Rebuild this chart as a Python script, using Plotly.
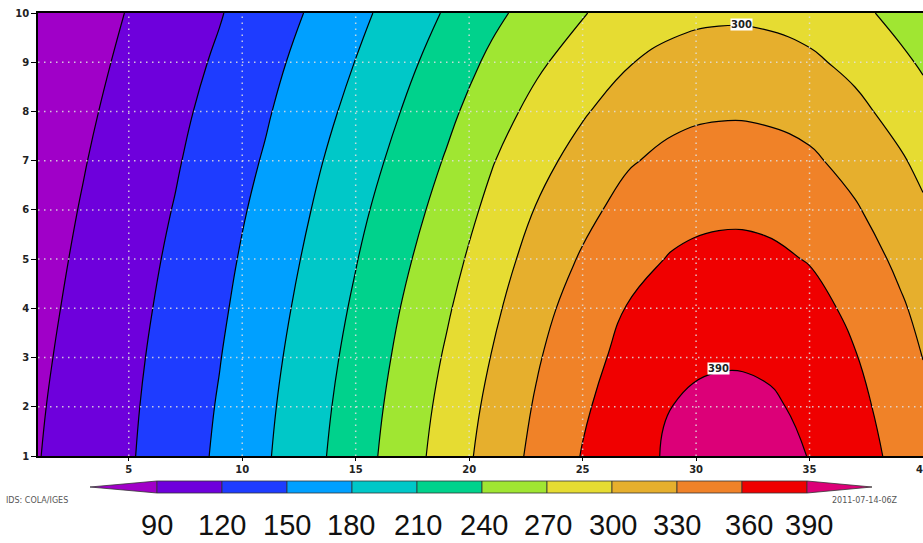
import plotly.graph_objects as go

# ---- data ----
x_vals = [1, 3, 5, 7, 9, 11, 13, 15, 17, 19, 21, 23, 25, 27, 29, 31, 33, 35, 37, 39, 40]
y_vals = [1, 2, 3, 4, 5, 6, 7, 8, 9, 10]

z_y1 = [89.0, 103.3, 117.3, 135.1, 154.4, 176.5, 200.7, 226.7, 254.0, 282.9, 311.7, 337.7, 361.4, 379.3, 394.6, 401.6, 399.9, 389.3, 372.5, 352.1, 340.1]
z_y2 = [87.4, 101.7, 115.8, 133.1, 152.1, 174.0, 197.8, 223.5, 250.5, 278.7, 307.1, 333.3, 356.5, 374.3, 390.4, 395.8, 394.2, 385.2, 367.6, 347.3, 335.6]
z_y3 = [85.3, 99.6, 113.9, 130.5, 149.1, 170.7, 194.1, 219.3, 245.9, 273.2, 301.0, 327.6, 350.3, 368.4, 382.3, 387.6, 386.1, 377.2, 361.4, 341.0, 329.7]
z_y4 = [82.9, 97.2, 111.6, 127.5, 145.6, 166.8, 189.7, 214.3, 240.5, 266.7, 293.9, 320.8, 342.8, 361.3, 373.0, 378.2, 376.9, 369.1, 353.9, 333.5, 322.8]
z_y5 = [80.4, 94.6, 109.0, 124.4, 142.1, 162.4, 184.9, 208.7, 233.8, 259.4, 286.1, 311.8, 333.0, 351.1, 362.3, 367.1, 365.9, 358.6, 343.8, 324.3, 313.8]
z_y6 = [77.6, 91.8, 106.1, 120.9, 138.3, 157.5, 179.6, 202.5, 226.4, 251.2, 277.5, 301.9, 322.2, 339.7, 350.3, 354.8, 353.7, 347.0, 332.7, 314.1, 303.8]
z_y7 = [74.5, 88.7, 102.9, 117.1, 134.1, 152.2, 173.8, 195.7, 218.4, 242.4, 268.2, 291.1, 310.4, 327.4, 337.4, 341.4, 340.4, 334.4, 320.6, 303.1, 293.0]
z_y8 = [71.2, 85.3, 99.3, 113.3, 129.2, 146.8, 167.1, 188.4, 210.3, 233.1, 257.2, 278.7, 297.2, 313.4, 323.1, 327.1, 326.0, 320.1, 307.1, 289.8, 280.1]
z_y9 = [67.8, 81.6, 95.4, 109.2, 123.9, 141.1, 160.1, 180.6, 201.6, 223.2, 245.6, 265.5, 283.2, 298.5, 307.9, 311.8, 310.8, 304.8, 292.8, 275.7, 266.4]
z_y10 = [64.1, 77.8, 91.3, 104.9, 118.4, 135.1, 152.6, 172.4, 192.5, 212.7, 233.2, 251.6, 268.4, 282.7, 291.8, 295.7, 294.6, 288.7, 277.6, 260.7, 251.9]

levels = [90, 120, 150, 180, 210, 240, 270, 300, 330, 360, 390]
band_colors = ["#a000c8", "#6e00dc", "#1e3cff", "#00a0ff", "#00c8c8", "#00d28c",
               "#a0e632", "#e6dc32", "#e6af2d", "#f08228", "#f00000", "#dc0078"]
x_ticks = [5, 10, 15, 20, 25, 30, 35, 40]
y_ticks = [1, 2, 3, 4, 5, 6, 7, 8, 9, 10]
line_labels = ["300", "390"]

z = [z_y1, z_y2, z_y3, z_y4, z_y5, z_y6, z_y7, z_y8, z_y9, z_y10]

n = len(band_colors) - 1
colorscale = [[i / n, c] for i, c in enumerate(band_colors)]
step = levels[1] - levels[0]

fig = go.Figure()
fig.add_trace(go.Contour(
    x=x_vals, y=y_vals, z=z,
    colorscale=colorscale,
    autocontour=False,
    contours=dict(start=levels[0], end=levels[-1], size=step, coloring="fill"),
    line=dict(color="black", width=1.2, smoothing=1.3),
    showscale=False,
    hoverinfo="skip",
))

W, H = 923, 543
L, R, T, B = 38, 0, 13, 87
pw, ph = W - L - R, H - T - B


def px2paper(px):
    return (px - L) / pw


def py2paper(py):
    return (H - B - py) / ph


grid_line = dict(color="rgba(225,225,225,0.85)", width=1.5, dash="1.5px,4.5px")
shapes = []
for yv in y_ticks[1:-1]:
    shapes.append(dict(type="line", xref="paper", yref="y", x0=0, x1=1, y0=yv, y1=yv,
                       line=grid_line, layer="above"))
for xv in x_ticks[:-1]:
    shapes.append(dict(type="line", xref="x", yref="paper", x0=xv, x1=xv, y0=0, y1=1,
                       line=grid_line, layer="above"))

# manual colour bar with triangular ends
cb_left, cb_w = 157, 65
cb_top, cb_bot = 481, 493
cb_mid = (cb_top + cb_bot) / 2
y0p, y1p, ymp = py2paper(cb_bot), py2paper(cb_top), py2paper(cb_mid)
shapes.append(dict(type="path", xref="paper", yref="paper",
                   path=f"M {px2paper(cb_left - 67)} {ymp} L {px2paper(cb_left)} {y1p} L {px2paper(cb_left)} {y0p} Z",
                   fillcolor=band_colors[0], line=dict(color="#333", width=0.8)))
for i in range(len(levels) - 1):
    shapes.append(dict(type="rect", xref="paper", yref="paper",
                       x0=px2paper(cb_left + i * cb_w), x1=px2paper(cb_left + (i + 1) * cb_w),
                       y0=y0p, y1=y1p, fillcolor=band_colors[i + 1],
                       line=dict(color="#333", width=0.8)))
right_end = cb_left + (len(levels) - 1) * cb_w
shapes.append(dict(type="path", xref="paper", yref="paper",
                   path=f"M {px2paper(right_end)} {y1p} L {px2paper(right_end + 65)} {ymp} L {px2paper(right_end)} {y0p} Z",
                   fillcolor=band_colors[-1], line=dict(color="#333", width=0.8)))

annotations = []
label_px = [157, 222, 287, 351, 418, 484, 548, 613, 677, 749, 809]
for lv, lx in zip(levels, label_px):
    annotations.append(dict(text=str(lv), xref="paper", yref="paper",
                            x=px2paper(lx), y=py2paper(525), xanchor="center", yanchor="middle",
                            showarrow=False, font=dict(family="Liberation Sans, Arial", size=29, color="#111")))
annotations.append(dict(text="IDS: COLA/IGES", xref="paper", yref="paper", x=px2paper(4), y=py2paper(494),
                        xanchor="left", yanchor="top", showarrow=False,
                        font=dict(family="DejaVu Sans", size=8, color="#555")))
annotations.append(dict(text="2011-07-14-06Z", xref="paper", yref="paper", x=px2paper(830), y=py2paper(494),
                        xanchor="left", yanchor="top", showarrow=False,
                        font=dict(family="DejaVu Sans", size=8, color="#555")))
annotations.append(dict(text=line_labels[0], x=32.0, y=9.76, xref="x", yref="y", showarrow=False,
                        bgcolor="white", borderpad=0,
                        font=dict(family="DejaVu Sans", size=10, color="#222", weight="bold")))
annotations.append(dict(text=line_labels[1], x=31.0, y=2.77, xref="x", yref="y", showarrow=False,
                        bgcolor="white", borderpad=0,
                        font=dict(family="DejaVu Sans", size=10, color="#222", weight="bold")))

tickfont = dict(family="DejaVu Sans", size=10, color="#222", weight="bold")
fig.update_layout(
    width=W, height=H,
    margin=dict(l=L, r=R, t=T, b=B, pad=0, autoexpand=False),
    paper_bgcolor="white", plot_bgcolor="white",
    shapes=shapes, annotations=annotations,
    xaxis=dict(range=[1, 40], tickvals=x_ticks, ticks="outside", ticklen=3, tickcolor="black",
               showline=True, linecolor="black", linewidth=1.5, mirror=True,
               ticklabeloverflow="allow", automargin=False,
               showgrid=False, zeroline=False, tickfont=tickfont),
    yaxis=dict(range=[1, 10], tickvals=y_ticks, ticks="outside", ticklen=5, tickcolor="black",
               showline=True, linecolor="black", linewidth=1.5, mirror=False, automargin=False,
               showgrid=False, zeroline=False, tickfont=tickfont),
)

fig.write_html("out.html")
